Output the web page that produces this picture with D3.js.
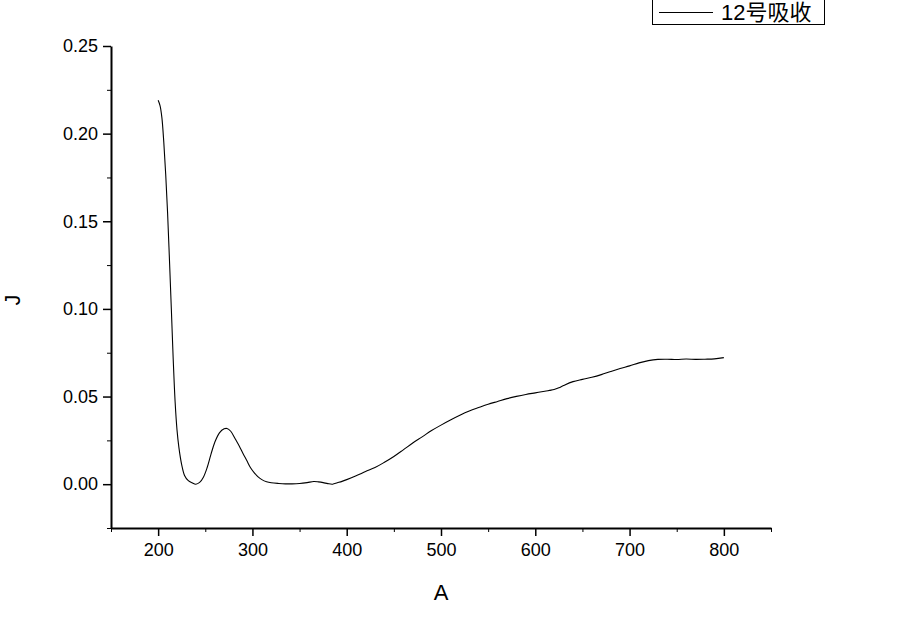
<!DOCTYPE html>
<html>
<head>
<meta charset="utf-8">
<script src="https://d3js.org/d3.v7.min.js"></script>
<style>
  body { margin: 0; background: #fff; }
  svg { display: block; font-family: "Liberation Sans", Arial, "Noto Sans CJK SC", sans-serif; }
  .axis path, .axis line { stroke: #000; }
  .axis text { fill: #000; }
</style>
</head>
<body>
<svg id="chart" width="897" height="632"></svg>
<script>
(function() {

// wavelength (A axis)
var wavelengths = [200, 202, 204, 206, 208, 210, 212, 214, 216, 218, 220, 222, 225, 228, 232, 236, 240,
    244, 248, 252, 256, 260, 265, 270, 273, 277, 282, 286, 290, 294, 298, 302, 306, 310, 315, 320,
    328, 335, 342, 350, 358, 365, 370, 375, 380, 385, 390, 395, 400, 410, 420, 430, 440, 450, 460,
    470, 480, 490, 500, 510, 520, 530, 540, 550, 560, 570, 580, 590, 600, 610, 615, 620, 625, 630,
    640, 650, 660, 670, 680, 690, 700, 710, 720, 730, 740, 750, 760, 770, 780, 790, 800];

// absorbance (J axis)
var absorbance = [0.219, 0.216, 0.209, 0.195, 0.177, 0.155, 0.128, 0.100, 0.071, 0.047, 0.031, 0.021,
    0.011, 0.005, 0.002, 0.0008, 0.0000, 0.0010, 0.0040, 0.0095, 0.0170, 0.0238, 0.0293, 0.0316,
    0.0318, 0.0302, 0.0256, 0.0218, 0.0175, 0.0135, 0.0094, 0.0065, 0.0042, 0.0026, 0.0014, 0.0008,
    0.0004, 0.0002, 0.0002, 0.0004, 0.0009, 0.0015, 0.0013, 0.0009, 0.0003, 0.0000, 0.0008, 0.0016,
    0.0026, 0.0048, 0.0072, 0.0095, 0.0125, 0.0158, 0.0196, 0.0235, 0.0270, 0.0306, 0.0337, 0.0366,
    0.0393, 0.0417, 0.0437, 0.0456, 0.0472, 0.0488, 0.0501, 0.0512, 0.0521, 0.0530, 0.0535, 0.0540,
    0.0550, 0.0563, 0.0585, 0.0598, 0.0610, 0.0625, 0.0643, 0.0660, 0.0675, 0.0692, 0.0705, 0.0712,
    0.0713, 0.0711, 0.0714, 0.0712, 0.0713, 0.0715, 0.0722];

var xTicks = [200, 300, 400, 500, 600, 700, 800];
var xMinorTicks = [150, 250, 350, 450, 550, 650, 750, 850];
var yTicks = [0.00, 0.05, 0.10, 0.15, 0.20, 0.25];
var yMinorTicks = [-0.025, 0.025, 0.075, 0.125, 0.175, 0.225];

var seriesName = '12号吸收';
var xLabel = 'A';
var yLabel = 'J';

var svg = d3.select('#chart');

var margin = {top: 46, right: 126, bottom: 104, left: 111},
    width = +svg.attr('width') - margin.left - margin.right,
    height = +svg.attr('height') - margin.top - margin.bottom;

var x = d3.scaleLinear()
    .domain([150, 850])
    .range([0, width]);

var y = d3.scaleLinear()
    .domain([-0.025, 0.25])
    .range([height, 0]);

var g = svg.append('g')
    .attr('transform', 'translate(' + margin.left + ',' + margin.top + ')');

// d3 axis sets its own font, put ours back
function styleAxis(a) {
    a.attr('font-size', 18).attr('font-family', null);
    a.select('.domain').attr('stroke-width', 2);
    a.selectAll('.tick line').attr('stroke-width', 1.5);
}

// x axis, minor then major ticks
g.append('g')
    .attr('class', 'axis')
    .attr('transform', 'translate(0,' + height + ')')
    .call(d3.axisBottom(x).tickValues(xMinorTicks).tickSize(4).tickSizeOuter(0).tickFormat(''))
    .call(function(a) { a.select('.domain').remove(); });

g.append('g')
    .attr('class', 'axis')
    .attr('transform', 'translate(0,' + height + ')')
    .call(d3.axisBottom(x).tickValues(xTicks).tickSize(8).tickSizeOuter(0).tickPadding(7))
    .call(styleAxis);

// y axis, minor then major ticks
g.append('g')
    .attr('class', 'axis')
    .call(d3.axisLeft(y).tickValues(yMinorTicks).tickSize(4).tickSizeOuter(0).tickFormat(''))
    .call(function(a) { a.select('.domain').remove(); });

g.append('g')
    .attr('class', 'axis')
    .call(d3.axisLeft(y).tickValues(yTicks).tickSize(8).tickSizeOuter(0).tickPadding(5)
        .tickFormat(d3.format('.2f')))
    .call(styleAxis);

// axis titles
svg.append('text')
    .attr('x', margin.left + x(500))
    .attr('y', 600)
    .attr('text-anchor', 'middle')
    .attr('font-size', 22)
    .text(xLabel);

svg.append('text')
    .attr('transform', 'translate(20,300) rotate(-90)')
    .attr('text-anchor', 'middle')
    .attr('font-size', 22)
    .text(yLabel);

// the spectrum
var line = d3.line()
    .x(function(d) { return x(d[0]); })
    .y(function(d) { return y(d[1]); })
    .curve(d3.curveCatmullRom.alpha(0.5));

g.append('path')
    .datum(d3.zip(wavelengths, absorbance))
    .attr('fill', 'none')
    .attr('stroke', '#000')
    .attr('stroke-width', 1.1)
    .attr('d', line);

// legend box, cut off at the top edge
var legend = svg.append('g');

legend.append('rect')
    .attr('x', 652.5)
    .attr('y', -5)
    .attr('width', 172)
    .attr('height', 29.5)
    .attr('fill', '#fff')
    .attr('stroke', '#000')
    .attr('stroke-width', 1);

legend.append('line')
    .attr('x1', 659)
    .attr('x2', 713)
    .attr('y1', 12.5)
    .attr('y2', 12.5)
    .attr('stroke', '#000')
    .attr('stroke-width', 1);

legend.append('text')
    .attr('x', 721)
    .attr('y', 20)
    .attr('font-size', 22)
    .text(seriesName);

})();
</script>
</body>
</html>
